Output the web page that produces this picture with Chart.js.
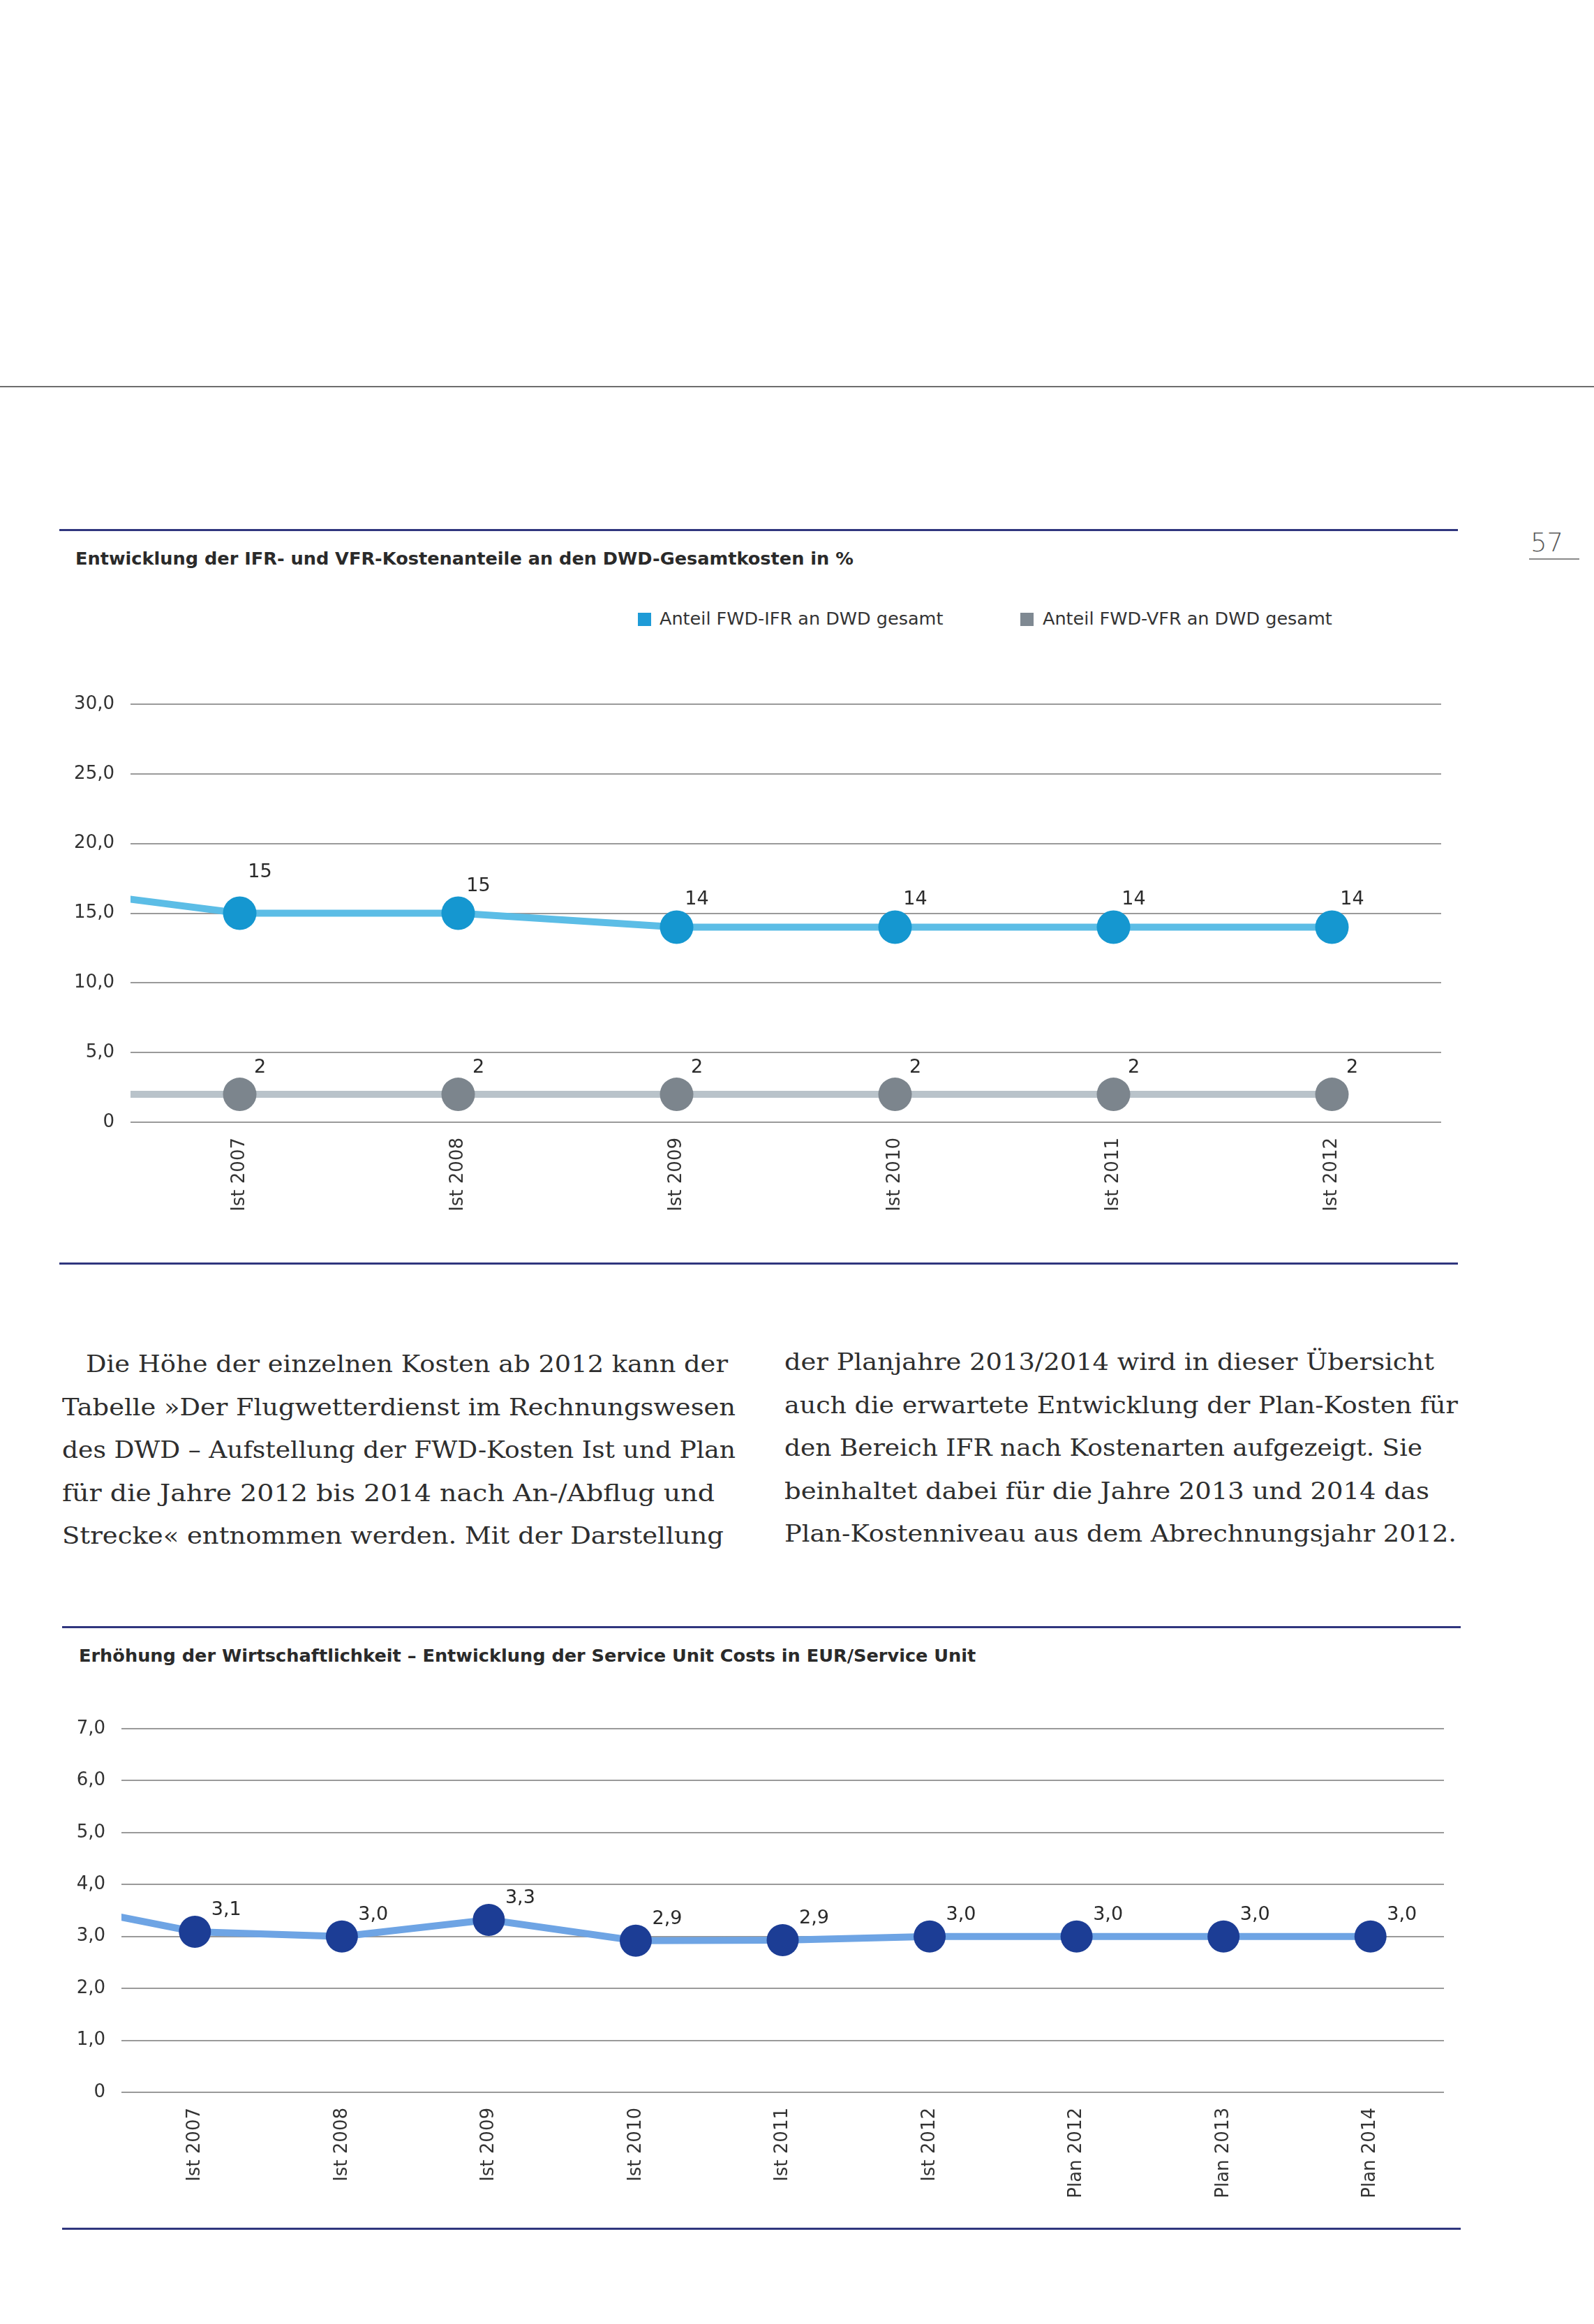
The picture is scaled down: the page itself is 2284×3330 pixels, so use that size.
<!DOCTYPE html>
<html lang="de">
<head>
<meta charset="utf-8">
<title>FWD Kostenanteile und Service Unit Costs</title>
<script src="https://cdn.jsdelivr.net/npm/chart.js@4.4.1/dist/chart.umd.min.js"></script>
<style>
  html, body { margin: 0; padding: 0; }
  body { width: 2284px; height: 3330px; position: relative; overflow: hidden; background: #fff;
         font-family: 'DejaVu Sans', sans-serif; color: #2b2b2b; }
  .abs { position: absolute; white-space: nowrap; line-height: 1; }
  .rule { position: absolute; height: 3px; background: #30367e; }
  .title { font-size: 25.6px; font-weight: bold; color: #2a2a2a; }
  .legend { font-size: 25.5px; color: #333; }
  .swatch { position: absolute; width: 19px; height: 19px; }
  .txt { position: absolute; white-space: nowrap; line-height: 1; font-family: 'DejaVu Serif', serif;
         font-size: 34px; color: #2e2e2e; transform-origin: 0 0; }
  canvas { position: absolute; left: 0; }
</style>
</head>
<body>

<div style="position:absolute;left:0;top:553px;width:2284px;height:2px;background:#6e6e6e"></div>
<div class="abs" style="left:2193px;top:759px;font-size:37px;color:#5a5a5a;font-weight:300">57</div>
<div style="position:absolute;left:2191px;top:800px;width:72px;height:2px;background:#8a8a8a"></div>

<!-- chart 1 -->
<div class="rule" style="left:85px;top:758px;width:2004px"></div>
<div class="abs title" style="left:108px;top:788px">Entwicklung der IFR- und VFR-Kostenanteile an den DWD-Gesamtkosten in %</div>
<div class="swatch" style="left:914px;top:878px;background:#1e9bd7"></div>
<div class="abs legend" style="left:945px;top:874px">Anteil FWD-IFR an DWD gesamt</div>
<div class="swatch" style="left:1462px;top:878px;background:#7f8992"></div>
<div class="abs legend" style="left:1494px;top:874px">Anteil FWD-VFR an DWD gesamt</div>
<canvas id="sharesChart" width="2284" height="820" style="top:960px"></canvas>
<div class="rule" style="left:85px;top:1809px;width:2004px"></div>

<!-- body text -->
<div class="txt" style="left:123px;top:1937px" data-right="1043">Die Höhe der einzelnen Kosten ab 2012 kann der</div>
<div class="txt" style="left:89px;top:1999px" data-right="1054">Tabelle »Der Flugwetterdienst im Rechnungswesen</div>
<div class="txt" style="left:89px;top:2060px" data-right="1054">des DWD – Aufstellung der FWD-Kosten Ist und Plan</div>
<div class="txt" style="left:89px;top:2122px" data-right="1024">für die Jahre 2012 bis 2014 nach An-/Abflug und</div>
<div class="txt" style="left:89px;top:2183px" data-right="1037">Strecke« entnommen werden. Mit der Darstellung</div>

<div class="txt" style="left:1124px;top:1934px" data-right="2055">der Planjahre 2013/2014 wird in dieser Übersicht</div>
<div class="txt" style="left:1124px;top:1996px" data-right="2089">auch die erwartete Entwicklung der Plan-Kosten für</div>
<div class="txt" style="left:1124px;top:2057px" data-right="2038">den Bereich IFR nach Kostenarten aufgezeigt. Sie</div>
<div class="txt" style="left:1124px;top:2119px" data-right="2048">beinhaltet dabei für die Jahre 2013 und 2014 das</div>
<div class="txt" style="left:1124px;top:2180px" data-right="2087">Plan-Kostenniveau aus dem Abrechnungsjahr 2012.</div>

<!-- chart 2 -->
<div class="rule" style="left:89px;top:2330px;width:2004px"></div>
<div class="abs title" style="left:113px;top:2360px">Erhöhung der Wirtschaftlichkeit – Entwicklung der Service Unit Costs in EUR/Service Unit</div>
<canvas id="unitCostChart" width="2284" height="760" style="top:2420px"></canvas>
<div class="rule" style="left:89px;top:3192px;width:2004px"></div>

<script>
// IFR/VFR shares in % (first entry is the year before, only the line running in from the left shows)
const shareYears = ['Ist 2006', 'Ist 2007', 'Ist 2008', 'Ist 2009', 'Ist 2010', 'Ist 2011', 'Ist 2012'];
const ifrShare = [17.0, 15, 15, 14, 14, 14, 14];
const vfrShare = [2, 2, 2, 2, 2, 2, 2];
const shareTicks = [0, 5, 10, 15, 20, 25, 30];

// service unit costs in EUR/Service Unit
const costYears = ['Ist 2006', 'Ist 2007', 'Ist 2008', 'Ist 2009', 'Ist 2010', 'Ist 2011', 'Ist 2012',
                   'Plan 2012', 'Plan 2013', 'Plan 2014'];
const unitCosts = [3.65, 3.09, 3.0, 3.32, 2.92, 2.93, 3.0, 3.0, 3.0, 3.0];
const costTicks = [0, 1, 2, 3, 4, 5, 6, 7];

Chart.defaults.font.family = "'DejaVu Sans', sans-serif";
Chart.defaults.color = '#333';

const commaNum = v => v === 0 ? '0' : v.toFixed(1).replace('.', ',');

// draws the value next to each visible point
const pointLabels = {
  id: 'pointLabels',
  afterDatasetsDraw(chart, args, opts) {
    const ctx = chart.ctx;
    const area = chart.chartArea;
    ctx.save();
    ctx.font = opts.font;
    ctx.fillStyle = opts.color;
    ctx.textAlign = 'center';
    ctx.textBaseline = 'middle';
    chart.data.datasets.forEach((ds, di) => {
      const meta = chart.getDatasetMeta(di);
      meta.data.forEach((pt, i) => {
        if (!isFinite(pt.x) || pt.x < area.left) return;
        const off = ds.labelDy;
        const dy = Array.isArray(off) ? off[i] : off;
        ctx.fillText(opts.format(ds.data[i]), pt.x + opts.dx, pt.y + dy);
      });
    });
    ctx.restore();
  }
};

function yAxis(ticks, width) {
  return {
    min: ticks[0],
    max: ticks[ticks.length - 1],
    afterBuildTicks: s => { s.ticks = ticks.map(v => ({value: v})); },
    afterFit: s => { s.width = width; },
    ticks: { callback: v => commaNum(v), font: {size: 26}, color: '#333', padding: 23 },
    grid: { color: '#9a9a9a', lineWidth: 2, drawTicks: false },
    border: { display: false }
  };
}

function xAxis(labels, height) {
  return {
    type: 'category',
    labels: labels,
    min: labels[1],
    offset: true,
    afterFit: s => { s.height = height; },
    ticks: { minRotation: 90, maxRotation: 90, autoSkip: false, font: {size: 26}, color: '#333', padding: 14 },
    grid: { display: false },
    border: { display: false }
  };
}

const lineClip = {left: 0, top: 60, right: 60, bottom: 60};

new Chart(document.getElementById('sharesChart'), {
  type: 'line',
  data: {
    labels: shareYears,
    datasets: [{
      label: 'Anteil FWD-IFR an DWD gesamt',
      data: ifrShare,
      borderColor: '#5cbde6',
      borderWidth: 10,
      pointRadius: 24,
      pointBorderWidth: 0,
      pointBackgroundColor: '#1597d0',
      clip: lineClip,
      labelDy: [0, -59, -39, -39, -39, -39, -39]
    }, {
      label: 'Anteil FWD-VFR an DWD gesamt',
      data: vfrShare,
      borderColor: '#b9c3ca',
      borderWidth: 10,
      pointRadius: 24,
      pointBorderWidth: 0,
      pointBackgroundColor: '#7c858d',
      clip: lineClip,
      labelDy: -38
    }]
  },
  options: {
    responsive: false,
    devicePixelRatio: 1,
    animation: false,
    layout: { padding: {left: 0, right: 219, top: 49, bottom: 0} },
    scales: {
      x: xAxis(shareYears, 172),
      y: yAxis(shareTicks, 187)
    },
    plugins: {
      legend: { display: false },
      tooltip: { enabled: false },
      pointLabels: { dx: 29, font: "27px 'DejaVu Sans'", color: '#2a2a2a', format: v => String(Math.round(v)) }
    }
  },
  plugins: [pointLabels]
});

new Chart(document.getElementById('unitCostChart'), {
  type: 'line',
  data: {
    labels: costYears,
    datasets: [{
      label: 'Service Unit Costs',
      data: unitCosts,
      borderColor: '#6ea4e4',
      borderWidth: 10,
      pointRadius: 23,
      pointBorderWidth: 0,
      pointBackgroundColor: '#1c3d95',
      clip: lineClip,
      labelDy: -31
    }]
  },
  options: {
    responsive: false,
    devicePixelRatio: 1,
    animation: false,
    layout: { padding: {left: 0, right: 215, top: 57, bottom: 0} },
    scales: {
      x: xAxis(costYears, 182),
      y: yAxis(costTicks, 174)
    },
    plugins: {
      legend: { display: false },
      tooltip: { enabled: false },
      pointLabels: { dx: 45, font: "27px 'DejaVu Sans'", color: '#2a2a2a', format: v => commaNum(v) }
    }
  },
  plugins: [pointLabels]
});

// squeeze each body text line to the width it has on the printed page
document.fonts.ready.then(() => {
  document.querySelectorAll('.txt').forEach(el => {
    const left = parseFloat(el.style.left);
    const target = parseFloat(el.dataset.right) - left;
    const w = el.getBoundingClientRect().width;
    el.style.transform = 'scaleX(' + (target / w).toFixed(4) + ')';
  });
});
</script>
</body>
</html>
